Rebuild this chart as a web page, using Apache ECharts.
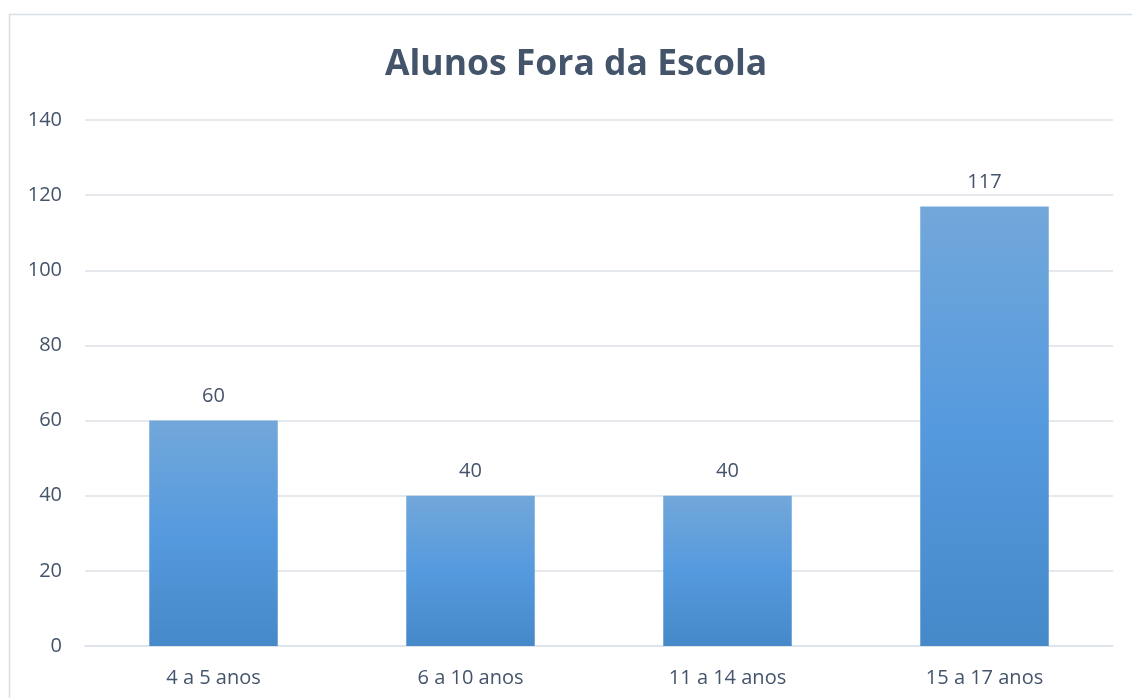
<!DOCTYPE html>
<html>
<head>
<meta charset="utf-8">
<script src="https://cdn.jsdelivr.net/npm/echarts@6/dist/echarts.min.js"></script>
<style>
html,body{margin:0;padding:0;background:#fff;}
#c{width:1132px;height:698px;}
</style>
</head>
<body>
<div id="c"></div>
<script>
var titleText = "Alunos Fora da Escola";
var categories = ["4 a 5 anos", "6 a 10 anos", "11 a 14 anos", "15 a 17 anos"];
var values = [60, 40, 40, 117];
var yMin = 0, yMax = 140, yStep = 20;

var textColor = "#44546a";
var gridColor = "#dde2e9";
var chart = echarts.init(document.getElementById('c'), null, {renderer: 'canvas'});
chart.setOption({
  backgroundColor: '#ffffff',
  animation: false,
  graphic: [{
    type: 'rect',
    shape: {x: 9.5, y: 14.5, width: 1200, height: 800},
    style: {fill: 'none', stroke: '#d9dfe8', lineWidth: 1.5},
    z: -1
  }],
  title: {
    text: titleText,
    left: 380,
    top: 42,
    textStyle: {fontFamily: 'Open Sans', fontWeight: 'bold', fontSize: 35.5, color: textColor}
  },
  grid: {left: 85, right: 19, top: 120, bottom: 52, containLabel: false},
  xAxis: {
    type: 'category',
    data: categories,
    axisLine: {show: true, lineStyle: {color: gridColor, width: 1.5}},
    axisTick: {show: false},
    axisLabel: {fontFamily: 'Open Sans', fontSize: 20, color: textColor, margin: 22}
  },
  yAxis: {
    type: 'value',
    min: yMin, max: yMax, interval: yStep,
    axisLine: {show: false},
    axisTick: {show: false},
    splitLine: {lineStyle: {color: gridColor, width: 1.5}},
    axisLabel: {fontFamily: 'Open Sans', fontSize: 20, color: textColor, margin: 23}
  },
  series: [{
    type: 'bar',
    data: values,
    barWidth: '50%',
    itemStyle: {
      color: new echarts.graphic.LinearGradient(0, 0, 0, 1, [
        {offset: 0, color: '#72a7da'},
        {offset: 0.5, color: '#559ade'},
        {offset: 1, color: '#4689c9'}
      ])
    },
    label: {
      show: true, position: 'top', distance: 14,
      fontFamily: 'Open Sans', fontSize: 20, color: textColor
    }
  }]
});
</script>
</body>
</html>
